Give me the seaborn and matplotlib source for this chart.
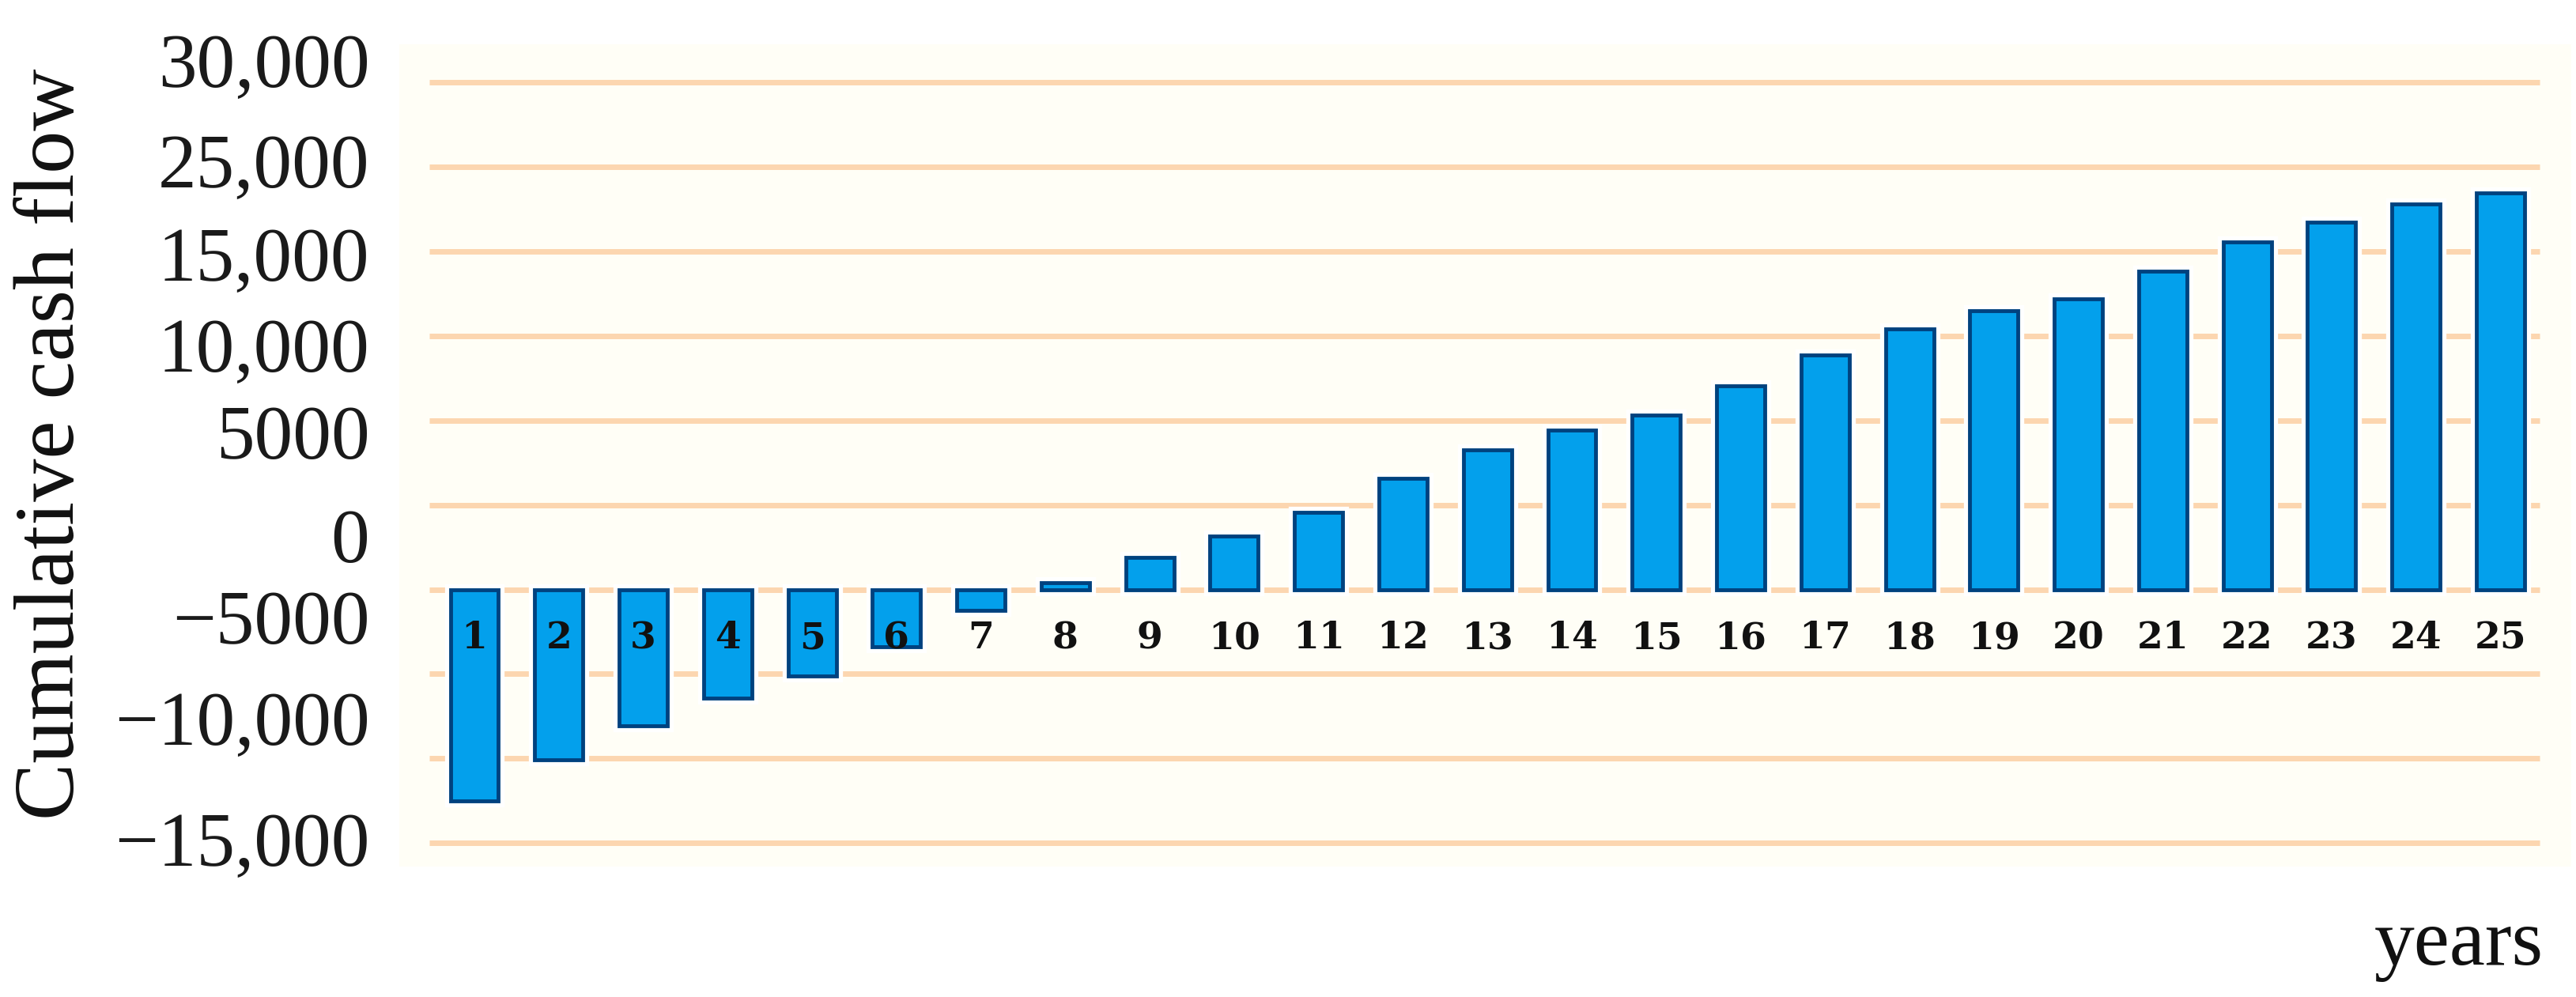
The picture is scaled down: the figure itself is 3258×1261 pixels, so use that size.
import matplotlib
matplotlib.use('Agg')
import matplotlib.pyplot as plt
import matplotlib.patheffects as pe
import pandas as pd
import seaborn as sns

# ---- data ----
years = list(range(1, 26))
cash_flow = [-12500, -10080, -8070, -6430, -5120, -3400, -1240, 400, 1900, 3150,
             4580, 6580, 8250, 9420, 10340, 12040, 13850, 15400, 16470, 17200,
             18850, 20550, 21750, 22800, 23450]
grid_values = [30000, 25000, 20000, 15000, 10000, 5000, 0, -5000, -10000, -15000]
ytick_labels = ['30,000', '25,000', '15,000', '10,000', '5000', '0',
                '\u22125000', '\u221210,000', '\u221215,000']
ytick_label_pos = [31314, 25379, 19860, 14476, 9331, 3204, -1614, -7600, -14757]

sns.set_theme(style='white')
plt.rcParams['font.family'] = ['Liberation Serif', 'DejaVu Serif']

fig = plt.figure(figsize=(32.58, 12.61), dpi=100)
fig.patch.set_facecolor('white')
ax = fig.add_axes([0.155, 0.1308, 0.8432, 0.8247])
ax.set_facecolor('#FFFEF6')

df = pd.DataFrame({'year': years, 'cash': cash_flow})
sns.barplot(data=df, x='year', y='cash', color='#03A0EC', saturation=1,
            width=0.57, edgecolor='#00427F', linewidth=3.5, ax=ax, zorder=2)
for p in ax.patches:
    p.set_path_effects([pe.withStroke(linewidth=11, foreground='white')])

ax.hlines(grid_values, -0.534, 24.468, colors='#FCD6B0', linewidth=5, zorder=1)

ax.set_xlim(-0.89, 24.84)
ax.set_ylim(-16394, 32250)
ax.grid(False)
ax.set_axisbelow(False)

for s in ax.spines.values():
    s.set_visible(False)
ax.spines['bottom'].set_position(('data', 0))

ax.set_yticks(ytick_label_pos)
ax.set_yticklabels(ytick_labels)
ax.tick_params(axis='y', length=0, pad=27, labelsize=70, labelcolor='#1a1a1a')
for t in ax.get_yticklabels():
    t.set_fontfamily('Liberation Serif')

ax.tick_params(axis='x', length=0, pad=28, labelsize=34, labelcolor='#111111')
for t in ax.get_xticklabels():
    t.set_fontfamily('DejaVu Serif')
    t.set_fontweight('bold')

ax.set_xlabel('')
ax.set_ylabel('Cumulative cash flow', fontfamily='Liberation Serif', fontsize=78,
              color='#111111')
ax.yaxis.set_label_coords(-0.1415, 0.514)

fig.text(0.9874, 0.0325, 'years', ha='right', va='baseline',
         fontfamily='Liberation Serif', fontsize=73, color='#111111')

fig.savefig('out.png', dpi=100, facecolor='white')
